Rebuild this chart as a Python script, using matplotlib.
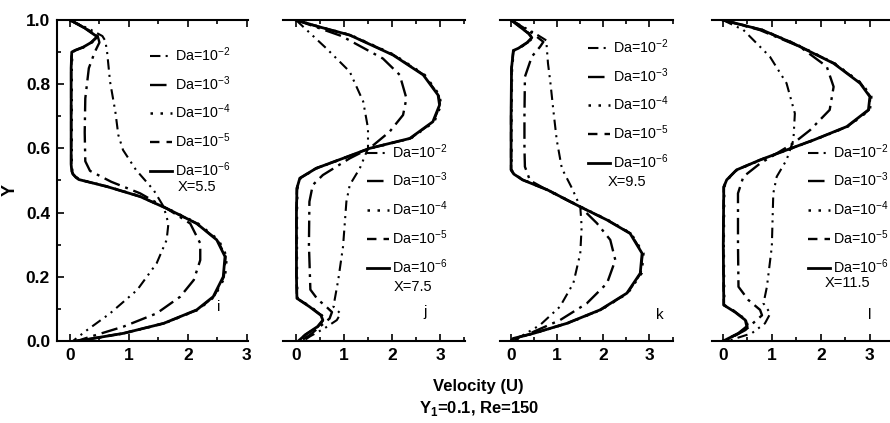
import matplotlib
matplotlib.use("Agg")
import matplotlib.pyplot as plt
from matplotlib.ticker import MultipleLocator

plt.rcParams['font.family'] = ['Liberation Sans', 'DejaVu Sans']

# ---------------- data (Y, U) ----------------
labels = ["Da=10$^{\\mathregular{-2}}$", "Da=10$^{\\mathregular{-3}}$", "Da=10$^{\\mathregular{-4}}$",
          "Da=10$^{\\mathregular{-5}}$", "Da=10$^{\\mathregular{-6}}$"]
panel_tags = ["i", "j", "k", "l"]
x_positions = ["X=5.5", "X=7.5", "X=9.5", "X=11.5"]

# Panel i (X=5.5)
i_y_2 = [1.0, 0.97, 0.95, 0.935, 0.9, 0.808, 0.714, 0.642, 0.595, 0.533, 0.47, 0.418, 0.366, 0.315, 0.242, 0.159, 0.086, 0.034, 0.0]
i_u_2 = [0.0, 0.35, 0.55, 0.6, 0.63, 0.68, 0.77, 0.82, 0.9, 1.12, 1.42, 1.59, 1.67, 1.64, 1.47, 1.14, 0.68, 0.29, 0.05]
i_y_3 = [1.0, 0.97, 0.95, 0.93, 0.9, 0.85, 0.756, 0.65, 0.56, 0.53, 0.496, 0.46, 0.413, 0.366, 0.304, 0.252, 0.19, 0.138, 0.086, 0.045, 0.013, 0.0]
i_u_3 = [0.0, 0.3, 0.47, 0.5, 0.42, 0.32, 0.26, 0.25, 0.26, 0.34, 0.7, 1.19, 1.64, 2.04, 2.21, 2.21, 2.1, 1.87, 1.47, 0.91, 0.34, 0.12]
i_y_a = [1.0, 0.975, 0.948, 0.93, 0.915, 0.905, 0.9, 0.85, 0.75, 0.65, 0.55, 0.53, 0.52, 0.51, 0.503, 0.481, 0.45, 0.413, 0.366, 0.315, 0.263, 0.2, 0.138, 0.097, 0.055, 0.024, 0.003, 0.0]
i_u_4 = [0.0, 0.26, 0.48, 0.37, 0.23, 0.09, 0.04, 0.03, 0.03, 0.03, 0.03, 0.04, 0.06, 0.11, 0.16, 0.64, 1.2, 1.65, 2.17, 2.52, 2.66, 2.63, 2.45, 2.17, 1.6, 0.92, 0.24, 0.1]
i_u_5 = [0.0, 0.25, 0.47, 0.36, 0.22, 0.08, 0.03, 0.02, 0.02, 0.02, 0.02, 0.03, 0.05, 0.1, 0.15, 0.63, 1.19, 1.64, 2.15, 2.5, 2.64, 2.61, 2.44, 2.16, 1.59, 0.91, 0.23, 0.1]
i_u_6 = [0.0, 0.25, 0.46, 0.36, 0.22, 0.08, 0.03, 0.02, 0.02, 0.02, 0.02, 0.03, 0.05, 0.1, 0.15, 0.63, 1.19, 1.64, 2.15, 2.49, 2.63, 2.6, 2.43, 2.15, 1.59, 0.91, 0.23, 0.1]

# Panel j (X=7.5)
j_y_2 = [1.0, 0.912, 0.839, 0.746, 0.663, 0.6, 0.538, 0.486, 0.434, 0.294, 0.19, 0.107, 0.085, 0.065, 0.04, 0.015, 0.0]
j_u_2 = [0.0, 0.63, 1.12, 1.4, 1.5, 1.5, 1.33, 1.12, 1.05, 0.98, 0.88, 0.78, 0.93, 0.85, 0.6, 0.3, 0.15]
j_y_3 = [1.0, 0.95, 0.88, 0.829, 0.756, 0.704, 0.652, 0.6, 0.569, 0.517, 0.486, 0.434, 0.3, 0.16, 0.13, 0.107, 0.09, 0.07, 0.045, 0.02, 0.0]
j_u_3 = [0.0, 0.95, 1.81, 2.16, 2.3, 2.23, 1.95, 1.53, 1.12, 0.56, 0.35, 0.28, 0.27, 0.3, 0.45, 0.63, 0.75, 0.7, 0.5, 0.3, 0.1]
j_y_a = [1.0, 0.98, 0.953, 0.92, 0.891, 0.829, 0.766, 0.735, 0.683, 0.631, 0.6, 0.569, 0.538, 0.507, 0.476, 0.4, 0.3, 0.2, 0.133, 0.107, 0.08, 0.065, 0.045, 0.02, 0.0]
j_u_4 = [0.0, 0.46, 1.14, 1.63, 2.05, 2.68, 2.99, 3.02, 2.88, 2.39, 1.54, 0.99, 0.43, 0.09, 0.03, 0.02, 0.02, 0.02, 0.03, 0.3, 0.54, 0.58, 0.47, 0.21, 0.05]
j_u_5 = [0.0, 0.45, 1.12, 1.61, 2.03, 2.66, 2.97, 3.0, 2.86, 2.38, 1.53, 0.98, 0.42, 0.08, 0.02, 0.01, 0.01, 0.01, 0.02, 0.29, 0.53, 0.57, 0.46, 0.2, 0.05]
j_u_6 = [0.0, 0.45, 1.12, 1.6, 2.02, 2.65, 2.96, 2.99, 2.85, 2.37, 1.53, 0.98, 0.42, 0.08, 0.02, 0.01, 0.01, 0.01, 0.02, 0.28, 0.52, 0.56, 0.45, 0.2, 0.05]

# Panel k (X=9.5)
k_y_2 = [1.0, 0.96, 0.935, 0.922, 0.865, 0.808, 0.714, 0.626, 0.538, 0.476, 0.418, 0.356, 0.273, 0.18, 0.107, 0.05, 0.0]
k_u_2 = [0.0, 0.5, 0.78, 0.77, 0.8, 0.85, 0.92, 0.99, 1.1, 1.32, 1.5, 1.53, 1.5, 1.35, 1.06, 0.63, 0.05]
k_y_3 = [1.0, 0.96, 0.932, 0.917, 0.886, 0.823, 0.7, 0.6, 0.543, 0.5, 0.465, 0.418, 0.367, 0.315, 0.252, 0.18, 0.117, 0.065, 0.029, 0.0]
k_u_3 = [0.0, 0.45, 0.7, 0.63, 0.45, 0.3, 0.29, 0.29, 0.3, 0.41, 0.85, 1.5, 1.86, 2.15, 2.26, 2.08, 1.64, 1.06, 0.49, 0.05]
k_y_a = [1.0, 0.958, 0.945, 0.93, 0.912, 0.905, 0.85, 0.7, 0.6, 0.533, 0.52, 0.502, 0.47, 0.418, 0.377, 0.335, 0.273, 0.211, 0.149, 0.097, 0.055, 0.024, 0.008, 0.0]
k_u_4 = [0.0, 0.39, 0.47, 0.37, 0.17, 0.06, 0.02, 0.01, 0.01, 0.01, 0.07, 0.26, 0.81, 1.51, 2.1, 2.6, 2.87, 2.83, 2.53, 1.95, 1.22, 0.5, 0.05, 0.0]
k_u_5 = [0.0, 0.38, 0.46, 0.36, 0.16, 0.05, 0.01, 0.0, 0.0, 0.0, 0.06, 0.25, 0.8, 1.5, 2.08, 2.59, 2.85, 2.81, 2.52, 1.94, 1.21, 0.49, 0.05, 0.0]
k_u_6 = [0.0, 0.38, 0.45, 0.35, 0.16, 0.05, 0.01, 0.0, 0.0, 0.0, 0.06, 0.25, 0.8, 1.5, 2.08, 2.58, 2.84, 2.8, 2.51, 1.93, 1.21, 0.49, 0.05, 0.0]

# Panel l (X=11.5)
l_y_2 = [1.0, 0.969, 0.886, 0.803, 0.709, 0.626, 0.564, 0.512, 0.46, 0.294, 0.169, 0.117, 0.086, 0.055, 0.024, 0.0]
l_u_2 = [0.0, 0.42, 0.96, 1.3, 1.47, 1.44, 1.3, 1.1, 1.03, 1.0, 0.9, 0.83, 0.97, 0.86, 0.59, 0.1]
l_y_3 = [1.0, 0.969, 0.917, 0.855, 0.792, 0.72, 0.657, 0.616, 0.553, 0.512, 0.46, 0.3, 0.169, 0.128, 0.097, 0.08, 0.06, 0.034, 0.0]
l_u_3 = [0.0, 0.75, 1.57, 2.12, 2.26, 2.18, 1.78, 1.44, 0.76, 0.42, 0.31, 0.31, 0.32, 0.52, 0.76, 0.8, 0.65, 0.46, 0.05]
l_y_a = [1.0, 0.969, 0.927, 0.865, 0.803, 0.761, 0.72, 0.668, 0.626, 0.595, 0.564, 0.533, 0.502, 0.48, 0.3, 0.112, 0.09, 0.065, 0.045, 0.024, 0.003, 0.0]
l_u_4 = [0.0, 0.81, 1.46, 2.28, 2.83, 3.03, 3.0, 2.55, 1.86, 1.31, 0.77, 0.29, 0.09, 0.03, 0.02, 0.03, 0.27, 0.48, 0.51, 0.33, 0.05, 0.0]
l_u_5 = [0.0, 0.8, 1.45, 2.27, 2.81, 3.01, 2.98, 2.54, 1.85, 1.3, 0.76, 0.28, 0.08, 0.02, 0.01, 0.02, 0.26, 0.47, 0.5, 0.32, 0.05, 0.0]
l_u_6 = [0.0, 0.8, 1.44, 2.26, 2.8, 3.0, 2.97, 2.53, 1.85, 1.3, 0.76, 0.28, 0.08, 0.02, 0.01, 0.02, 0.25, 0.46, 0.49, 0.32, 0.05, 0.0]

panels = [
    [(i_u_2, i_y_2), (i_u_3, i_y_3), (i_u_4, i_y_a), (i_u_5, i_y_a), (i_u_6, i_y_a)],
    [(j_u_2, j_y_2), (j_u_3, j_y_3), (j_u_4, j_y_a), (j_u_5, j_y_a), (j_u_6, j_y_a)],
    [(k_u_2, k_y_2), (k_u_3, k_y_3), (k_u_4, k_y_a), (k_u_5, k_y_a), (k_u_6, k_y_a)],
    [(l_u_2, l_y_2), (l_u_3, l_y_3), (l_u_4, l_y_a), (l_u_5, l_y_a), (l_u_6, l_y_a)],
]

# ---------------- styles / layout ----------------
styles = [
    dict(ls=(0, (5, 2.5, 1, 2.5, 1, 2.5)), lw=1.5),
    dict(ls=(0, (7, 2.5, 1.2, 2.5)), lw=1.7),
    dict(ls=(0, (1, 3)), lw=1.8),
    dict(ls=(0, (4, 3)), lw=1.7),
    dict(ls='-', lw=2.0),
]

W, H = 890, 423
bottom_px, top_px = 341, 20
axes_px = [(57, 248), (283, 465), (500, 673), (712, 890)]
xlims = [(-0.22, 3.02), (-0.27, 3.52), (-0.24, 3.51), (-0.22, 3.41)]
legend_anchor = [(0.487, 0.922), (0.46, 0.62), (0.509, 0.947), (0.539, 0.62)]
xtext_pos = [(197, 187), (413, 287), (627, 182), (847, 283)]
tag_pos = [(2.52, 0.106), (2.69, 0.09), (3.23, 0.081), (3.0, 0.081)]

fig = plt.figure(figsize=(W / 100, H / 100), dpi=100)

for p in range(4):
    x0, x1 = axes_px[p]
    ax = fig.add_axes([x0 / W, (H - bottom_px) / H, (x1 - x0) / W, (bottom_px - top_px) / H])
    for (u, y), st, lab in zip(panels[p], styles, labels):
        ax.plot(u, y, color='black', linestyle=st['ls'], lw=st['lw'], label=lab)
    ax.set_xlim(*xlims[p])
    ax.set_ylim(0, 1.0)
    ax.xaxis.set_major_locator(MultipleLocator(1))
    ax.xaxis.set_minor_locator(MultipleLocator(0.5))
    ax.yaxis.set_major_locator(MultipleLocator(0.2))
    ax.yaxis.set_minor_locator(MultipleLocator(0.1))
    ax.spines['right'].set_visible(False)
    for s in ['top', 'bottom', 'left']:
        ax.spines[s].set_linewidth(1.5)
    left_on = (p == 0)
    ax.spines['left'].set_visible(left_on)
    ax.tick_params(which='both', direction='in', top=True, bottom=True, left=left_on,
                   right=False, labelleft=left_on, width=1.2)
    ax.tick_params(which='major', length=5, labelsize=12.5, pad=5)
    ax.tick_params(which='minor', length=3)
    if left_on:
        ax.set_yticks([0.0, 0.2, 0.4, 0.6, 0.8, 1.0])
        ax.set_yticklabels(["0.0", "0.2", "0.4", "0.6", "0.8", "1.0"], fontweight='bold')
        ax.set_ylabel("Y", fontsize=13, fontweight='bold')
        ax.yaxis.set_label_coords(-0.2, 0.47)
    ax.set_xticks([0, 1, 2, 3])
    ax.set_xticklabels(["0", "1", "2", "3"], fontweight='bold')
    ax.legend(loc='upper left', bbox_to_anchor=legend_anchor[p], frameon=False,
              fontsize=10.3, handlelength=1.55, handletextpad=0.2, labelspacing=0.72,
              borderpad=0, borderaxespad=0)
    ax.text(tag_pos[p][0], tag_pos[p][1], panel_tags[p], fontsize=11, ha='center', va='center')
    fig.text(xtext_pos[p][0] / W, 1 - xtext_pos[p][1] / H, x_positions[p], fontsize=10.5,
             ha='center', va='center')

fig.text(478 / W, 1 - 386 / H, "Velocity (U)", fontsize=12, fontweight='bold', ha='center', va='center')
fig.text(479 / W, 1 - 408 / H, "Y$_{\\mathregular{1}}$=0.1, Re=150", fontsize=12, fontweight='bold',
         ha='center', va='center')

fig.savefig("out.png", dpi=100)
